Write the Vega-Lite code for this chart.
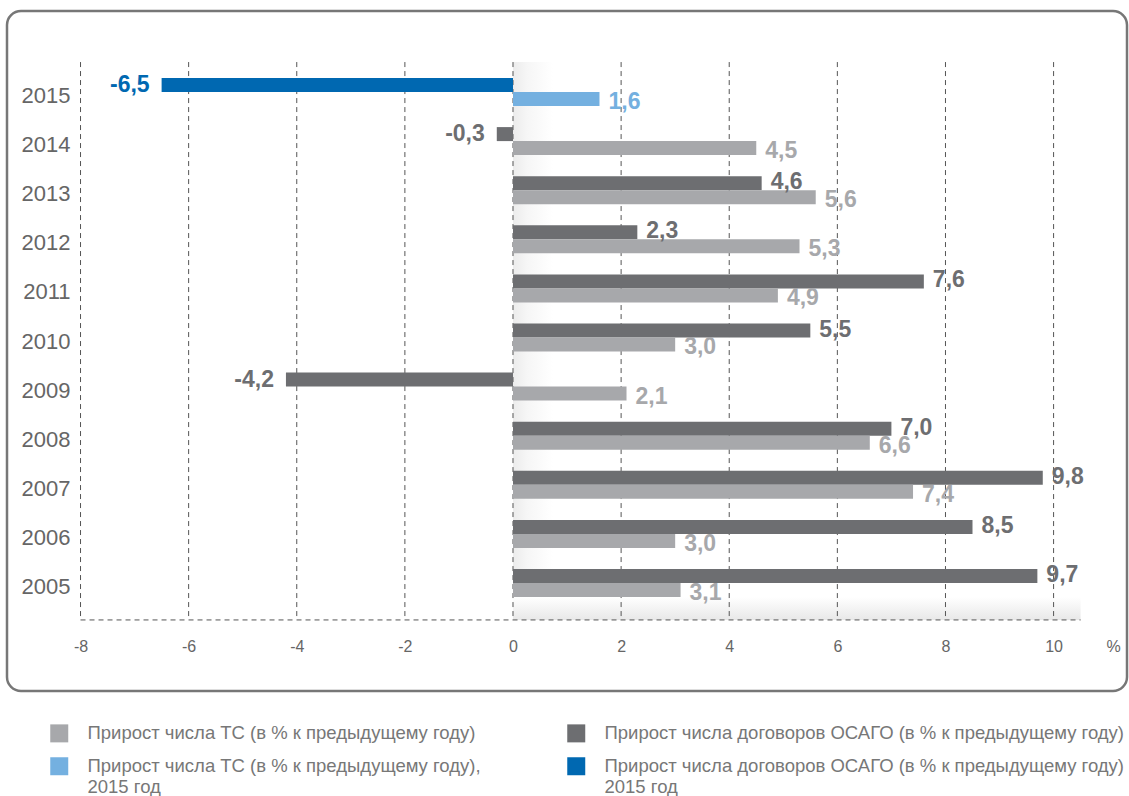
{
  "$schema": "https://vega.github.io/schema/vega-lite/v6.json",
  "width": 1120,
  "height": 680,
  "autosize": {"type": "none"},
  "padding": {"left": 7, "top": 11, "right": 2, "bottom": 105},
  "config": {
    "font": "Liberation Sans",
    "view": {"stroke": "#777777", "strokeWidth": 2.5, "cornerRadius": 14},
    "locale": {"number": {"decimal": ",", "thousands": " ", "grouping": [3], "currency": ["", ""], "minus": "-"}}
  },
  "datasets": {
    "bars": [
      {"year": "2015", "type": "OSAGO", "series": "Прирост числа договоров ОСАГО (в % к предыдущему году)|2015 год", "value": -6.5},
      {"year": "2015", "type": "TS", "series": "Прирост числа ТС (в % к предыдущему году),|2015 год", "value": 1.6},
      {"year": "2014", "type": "OSAGO", "series": "Прирост числа договоров ОСАГО (в % к предыдущему году)", "value": -0.3},
      {"year": "2014", "type": "TS", "series": "Прирост числа ТС (в % к предыдущему году)", "value": 4.5},
      {"year": "2013", "type": "OSAGO", "series": "Прирост числа договоров ОСАГО (в % к предыдущему году)", "value": 4.6},
      {"year": "2013", "type": "TS", "series": "Прирост числа ТС (в % к предыдущему году)", "value": 5.6},
      {"year": "2012", "type": "OSAGO", "series": "Прирост числа договоров ОСАГО (в % к предыдущему году)", "value": 2.3},
      {"year": "2012", "type": "TS", "series": "Прирост числа ТС (в % к предыдущему году)", "value": 5.3},
      {"year": "2011", "type": "OSAGO", "series": "Прирост числа договоров ОСАГО (в % к предыдущему году)", "value": 7.6},
      {"year": "2011", "type": "TS", "series": "Прирост числа ТС (в % к предыдущему году)", "value": 4.9},
      {"year": "2010", "type": "OSAGO", "series": "Прирост числа договоров ОСАГО (в % к предыдущему году)", "value": 5.5},
      {"year": "2010", "type": "TS", "series": "Прирост числа ТС (в % к предыдущему году)", "value": 3.0},
      {"year": "2009", "type": "OSAGO", "series": "Прирост числа договоров ОСАГО (в % к предыдущему году)", "value": -4.2},
      {"year": "2009", "type": "TS", "series": "Прирост числа ТС (в % к предыдущему году)", "value": 2.1},
      {"year": "2008", "type": "OSAGO", "series": "Прирост числа договоров ОСАГО (в % к предыдущему году)", "value": 7.0},
      {"year": "2008", "type": "TS", "series": "Прирост числа ТС (в % к предыдущему году)", "value": 6.6},
      {"year": "2007", "type": "OSAGO", "series": "Прирост числа договоров ОСАГО (в % к предыдущему году)", "value": 9.8},
      {"year": "2007", "type": "TS", "series": "Прирост числа ТС (в % к предыдущему году)", "value": 7.4},
      {"year": "2006", "type": "OSAGO", "series": "Прирост числа договоров ОСАГО (в % к предыдущему году)", "value": 8.5},
      {"year": "2006", "type": "TS", "series": "Прирост числа ТС (в % к предыдущему году)", "value": 3.0},
      {"year": "2005", "type": "OSAGO", "series": "Прирост числа договоров ОСАГО (в % к предыдущему году)", "value": 9.7},
      {"year": "2005", "type": "TS", "series": "Прирост числа ТС (в % к предыдущему году)", "value": 3.1}
    ],
    "grid": [{"tick": -8}, {"tick": -6}, {"tick": -4}, {"tick": -2}, {"tick": 0}, {"tick": 2}, {"tick": 4}, {"tick": 6}, {"tick": 8}, {"tick": 10}],
    "shade": [{"from": 0, "to": 10.5, "left": -8}]
  },
  "encoding": {
    "y": {
      "field": "year",
      "type": "ordinal",
      "scale": {
        "domain": ["2015", "2014", "2013", "2012", "2011", "2010", "2009", "2008", "2007", "2006", "2005"],
        "paddingInner": 0.43,
        "paddingOuter": 0,
        "range": [67, 586]
      },
      "axis": {
        "orient": "left",
        "offset": -71,
        "labelPadding": 8,
        "labelFontSize": 22,
        "labelColor": "#666666",
        "labelOffset": 4,
        "domain": false,
        "ticks": false,
        "title": null
      }
    }
  },
  "layer": [
    {
      "data": {"name": "shade"},
      "mark": {
        "type": "rect",
        "fill": {"gradient": "linear", "x1": 0, "y1": 0, "x2": 1, "y2": 0, "stops": [{"offset": 0, "color": "#ececec"}, {"offset": 0.025, "color": "#f6f6f6"}, {"offset": 0.07, "color": "#ffffff"}]}
      },
      "encoding": {
        "x": {"field": "from", "type": "quantitative", "scale": {"domain": [-9.36, 11.358], "nice": false, "zero": false},
          "axis": {"values": [-8, -6, -4, -2, 0, 2, 4, 6, 8, 10, 11.1], "format": ".0f", "labelExpr": "datum.value > 10.5 ? '%' : datum.label", "orient": "bottom", "offset": -71, "labelPadding": 18, "labelFontSize": 16, "labelColor": "#666666", "labelFlush": false, "domain": false, "ticks": false, "grid": false, "title": null}},
        "x2": {"field": "to"},
        "y": {"datum": "2015", "type": "ordinal", "bandPosition": -0.57},
        "y2": {"datum": "2005", "bandPosition": 1.82}
      }
    },
    {
      "data": {"name": "shade"},
      "mark": {
        "type": "rect",
        "fill": {"gradient": "linear", "x1": 0, "y1": 0, "x2": 0, "y2": 1, "stops": [{"offset": 0, "color": "#ffffff"}, {"offset": 1, "color": "#e8e8e8"}]}
      },
      "encoding": {
        "x": {"field": "from", "type": "quantitative"},
        "x2": {"field": "to"},
        "y": {"datum": "2005", "type": "ordinal", "bandPosition": 1.0},
        "y2": {"datum": "2005", "bandPosition": 1.82}
      }
    },
    {
      "data": {"name": "grid"},
      "mark": {"type": "rule", "color": "#555555", "strokeWidth": 1, "strokeDash": [5, 4]},
      "encoding": {
        "x": {"field": "tick", "type": "quantitative"},
        "y": {"datum": "2015", "type": "ordinal", "bandPosition": -0.57},
        "y2": {"datum": "2005", "bandPosition": 1.82}
      }
    },
    {
      "data": {"name": "shade"},
      "mark": {"type": "rule", "color": "#555555", "strokeWidth": 1, "strokeDash": [5, 4]},
      "encoding": {
        "x": {"field": "left", "type": "quantitative"},
        "x2": {"field": "to"},
        "y": {"datum": "2005", "type": "ordinal", "bandPosition": 1.82}
      }
    },
    {
      "data": {"name": "bars"},
      "mark": {"type": "bar"},
      "encoding": {
        "x": {"field": "value", "type": "quantitative"},
        "yOffset": {"field": "type", "type": "nominal", "scale": {"domain": ["OSAGO", "TS"]}},
        "color": {
          "field": "series",
          "type": "nominal",
          "scale": {
            "domain": [
              "Прирост числа ТС (в % к предыдущему году)",
              "Прирост числа ТС (в % к предыдущему году),|2015 год",
              "Прирост числа договоров ОСАГО (в % к предыдущему году)",
              "Прирост числа договоров ОСАГО (в % к предыдущему году)|2015 год"
            ],
            "range": ["#a7a8ab", "#74b0e0", "#6d6e71", "#0068b1"]
          },
          "legend": {
            "orient": "none",
            "legendX": 43,
            "legendY": 713,
            "columns": 2,
            "title": null,
            "symbolType": "square",
            "symbolSize": 324,
            "symbolStrokeWidth": 0,
            "labelFontSize": 18.5,
            "labelColor": "#777777",
            "labelOffset": 19,
            "labelLimit": 0,
            "columnPadding": 86,
            "rowPadding": 14,
            "labelExpr": "split(datum.label, '|')"
          }
        }
      }
    },
    {
      "data": {"name": "bars"},
      "transform": [{"filter": "datum.value >= 0 && datum.type == 'OSAGO'"}],
      "mark": {"type": "text", "fontWeight": "bold", "fontSize": 23, "baseline": "middle", "align": "left", "dx": 9, "dy": -1},
      "encoding": {
        "x": {"field": "value", "type": "quantitative"},
        "yOffset": {"field": "type", "type": "nominal", "scale": {"domain": ["OSAGO", "TS"]}},
        "text": {"field": "value", "type": "quantitative", "format": ".1f"},
        "color": {"field": "series", "type": "nominal"}
      }
    },
    {
      "data": {"name": "bars"},
      "transform": [{"filter": "datum.value >= 0 && datum.type == 'TS'"}],
      "mark": {"type": "text", "fontWeight": "bold", "fontSize": 23, "baseline": "middle", "align": "left", "dx": 9, "dy": 3},
      "encoding": {
        "x": {"field": "value", "type": "quantitative"},
        "yOffset": {"field": "type", "type": "nominal", "scale": {"domain": ["OSAGO", "TS"]}},
        "text": {"field": "value", "type": "quantitative", "format": ".1f"},
        "color": {"field": "series", "type": "nominal"}
      }
    },
    {
      "data": {"name": "bars"},
      "transform": [{"filter": "datum.value < 0"}],
      "mark": {"type": "text", "fontWeight": "bold", "fontSize": 23, "baseline": "middle", "align": "right", "dx": -12, "dy": 0},
      "encoding": {
        "x": {"field": "value", "type": "quantitative"},
        "yOffset": {"field": "type", "type": "nominal", "scale": {"domain": ["OSAGO", "TS"]}},
        "text": {"field": "value", "type": "quantitative", "format": ".1f"},
        "color": {"field": "series", "type": "nominal"}
      }
    }
  ]
}
